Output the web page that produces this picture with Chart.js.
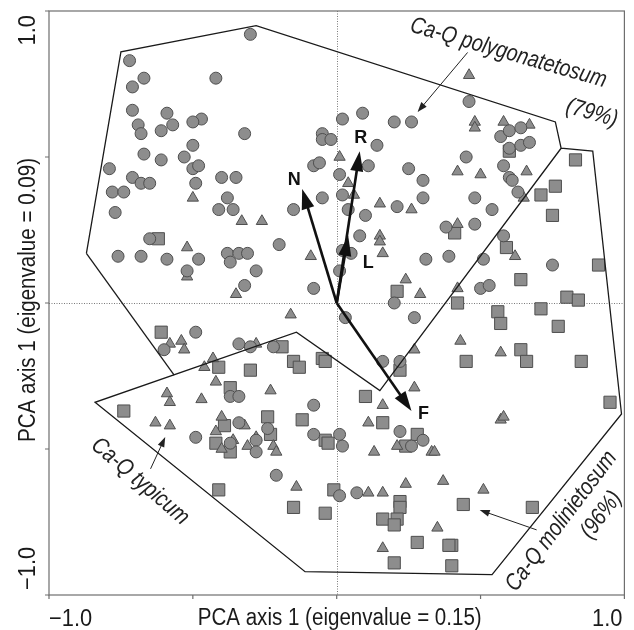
<!DOCTYPE html>
<html>
<head>
<meta charset="utf-8">
<script src="https://cdn.jsdelivr.net/npm/chart.js@4/dist/chart.umd.min.js"></script>
<style>
  html, body { margin: 0; padding: 0; background: #fff; overflow: hidden; }
  #pca { display: block; width: 634px; height: 630px; }
</style>
</head>
<body>
<canvas id="pca" width="634" height="630"></canvas>
<script>
// PCA scores of the releves (axis 1, axis 2), one list per symbol
const circleScores = [
  [-0.30,0.92],[-0.72,0.83],[-0.67,0.77],[-0.42,0.77],[-0.71,0.74],[-0.71,0.66],[-0.59,0.65],[-0.47,0.63],
  [-0.50,0.62],[-0.57,0.61],[-0.69,0.61],[-0.61,0.59],[-0.68,0.58],[-0.32,0.58],[-0.50,0.54],[-0.67,0.51],
  [-0.53,0.50],[-0.61,0.49],[-0.79,0.46],[-0.50,0.46],[-0.48,0.47],[-0.40,0.43],[-0.35,0.43],[-0.71,0.43],
  [-0.68,0.41],[-0.65,0.41],[-0.78,0.38],[-0.74,0.38],[-0.49,0.41],[-0.38,0.36],[-0.41,0.32],[-0.36,0.32],
  [-0.77,0.31],[-0.65,0.22],[-0.76,0.16],[-0.68,0.16],[-0.59,0.15],[-0.48,0.15],[-0.52,0.11],[-0.38,0.17],
  [-0.34,0.17],[-0.31,0.17],[-0.37,0.14],[-0.28,0.11],[-0.32,0.06],[-0.20,0.20],[-0.08,0.05],[-0.15,0.32],
  [0.02,0.63],[0.09,0.65],[0.20,0.62],[0.26,0.62],[-0.05,0.58],[-0.05,0.56],[-0.02,0.56],[0.14,0.54],
  [-0.08,0.47],[-0.06,0.48],[0.11,0.47],[0.25,0.46],[0.30,0.42],[0.01,0.44],[0.02,0.37],[-0.05,0.36],
  [0.30,0.36],[0.21,0.33],[0.04,0.32],[0.10,0.30],[0.08,0.23],[0.02,0.18],[0.05,0.17],[0.01,0.11],
  [0.31,0.15],[0.39,0.16],[0.38,0.26],[0.48,0.27],[0.48,0.36],[0.54,0.32],[0.58,0.23],[0.51,0.15],
  [0.75,0.13],[0.50,0.05],[0.53,0.06],[0.20,0.00],[0.03,-0.05],[0.27,-0.05],
  [0.46,0.69],[0.57,0.57],[0.60,0.59],[0.64,0.60],[0.60,0.53],[0.64,0.54],[0.67,0.55],[0.45,0.50],
  [0.58,0.47],[0.60,0.43],[0.61,0.42],[0.63,0.38],
  [-0.49,-0.10],[-0.60,-0.16],[-0.34,-0.14],[-0.30,-0.15],[-0.22,-0.15],[-0.37,-0.32],[-0.34,-0.32],
  [-0.49,-0.46],[-0.34,-0.41],[-0.24,-0.43],[-0.37,-0.48],[-0.28,-0.47],[-0.28,-0.51],[-0.21,-0.59],
  [-0.08,-0.35],[-0.08,-0.45],[0.01,-0.45],[0.02,-0.49],[0.16,-0.20],[0.22,-0.20],[0.22,-0.44],
  [0.30,-0.47],[0.26,-0.49],[0.01,-0.66],[0.07,-0.65]
];
const triangleScores = [
  [-0.50,0.36],[-0.33,0.28],[-0.26,0.28],[-0.52,0.19],[-0.52,0.09],[-0.35,0.03],[-0.09,0.16],[-0.16,-0.04],
  [0.01,0.50],[0.04,0.41],[0.06,0.37],[0.15,0.34],[0.26,0.32],[0.15,0.23],[0.15,0.21],[0.16,0.17],
  [0.24,0.08],[0.29,0.03],[0.42,0.27],[0.42,0.05],
  [0.46,0.78],[0.48,0.62],[0.48,0.60],[0.58,0.62],[0.67,0.61],[0.42,0.45],[0.50,0.44],[0.66,0.45],
  [0.65,0.36],[0.62,0.16],
  [-0.58,-0.14],[-0.54,-0.13],[-0.53,-0.16],[-0.28,-0.14],[-0.43,-0.19],[-0.46,-0.22],[-0.42,-0.27],
  [-0.59,-0.31],[-0.58,-0.34],[-0.47,-0.33],[-0.23,-0.30],[-0.63,-0.41],[-0.58,-0.42],[-0.40,-0.39],
  [-0.32,-0.42],[-0.42,-0.44],[-0.36,-0.47],[-0.40,-0.50],[-0.28,-0.46],[-0.31,-0.49],[-0.22,-0.49],
  [-0.21,-0.51],[-0.14,-0.63],
  [0.27,-0.16],[0.43,-0.13],[0.57,-0.17],[0.27,-0.29],[0.16,-0.35],[0.11,-0.41],[0.21,-0.49],
  [0.13,-0.51],[0.33,-0.51],[0.34,-0.51],[0.11,-0.65],[0.16,-0.65],[0.24,-0.62],[0.37,-0.61],
  [0.51,-0.64],[0.35,-0.77],[0.16,-0.84],[0.57,-0.40],[0.58,-0.39]
];
const squareScores = [
  [-0.62,0.22],[-0.61,-0.10],[-0.41,-0.22],[-0.30,-0.23],[-0.37,-0.29],[-0.74,-0.37],[-0.39,-0.42],
  [-0.24,-0.39],[-0.23,-0.45],[-0.42,-0.48],[-0.37,-0.51],[-0.41,-0.64],[-0.15,-0.70],[-0.19,-0.15],
  [-0.15,-0.20],[-0.13,-0.22],[-0.05,-0.19],[-0.04,-0.20],[-0.12,-0.40],[-0.04,-0.47],[-0.03,-0.48],
  [0.10,-0.32],[0.22,-0.23],[0.16,-0.41],[0.28,-0.45],[0.24,-0.49],[-0.01,-0.64],[0.22,-0.68],
  [0.22,-0.70],[-0.04,-0.72],[0.16,-0.74],[0.21,-0.74],[0.20,-0.76],[0.28,-0.82],[0.40,-0.83],
  [0.39,-0.83],[0.20,-0.89],[0.40,-0.90],[0.44,-0.69],[0.68,-0.70],
  [0.41,0.24],[0.59,0.19],[0.21,0.04],[0.42,0.00],[0.60,0.52],[0.83,0.49],[0.76,0.40],[0.71,0.37],
  [0.75,0.30],[0.91,0.13],[0.64,0.08],[0.80,0.02],[0.84,0.01],[0.71,-0.02],[0.56,-0.03],[0.57,-0.07],
  [0.77,-0.08],[0.45,-0.20],[0.64,-0.16],[0.66,-0.20],[0.85,-0.20],[0.95,-0.34]
];

// outlines of the subassociations (drawn as one path + one dividing edge)
const outlineMain = [
  [-0.87,0.17],[-0.75,0.86],[-0.28,0.95],[0.76,0.62],[0.78,0.53],[0.89,0.52],[0.99,-0.38],
  [0.54,-0.93],[-0.11,-0.92],[-0.84,-0.34],[-0.14,-0.10],[0.15,-0.30],[0.78,0.53]
];
const outlineSplit = [[-0.87,0.17],[-0.565,-0.247]];

// environmental vectors (Ellenberg values)
const vectorNames = ['N', 'R', 'L', 'F'];
const vectorX = [-0.12, 0.08, 0.04, 0.26];
const vectorY = [0.39, 0.52, 0.23, -0.37];

// axes
const axisTicks = [-1, -0.5, 0, 0.5, 1];
const xTitle = 'PCA axis 1 (eigenvalue = 0.15)';
const yTitle = 'PCA axis 1 (eigenvalue = 0.09)';
const endLabels = ['\u22121.0', '1.0'];

// labels of the groups
const notes = [
  { lines: ['Ca-Q polygonatetosum', '(79%)'], at: [[0.597, 0.856], [0.887, 0.650]], angle: 16,
    from: [0.455, 0.858], to: [0.281, 0.654] },
  { lines: ['Ca-Q typicum'], at: [[-0.683, -0.611]], angle: 40.5,
    from: [-0.647, -0.568], to: [-0.596, -0.459] },
  { lines: ['Ca-Q molinietosum', '(96%)'], at: [[0.781, -0.747], [0.920, -0.726]], angle: -53,
    from: [0.695, -0.777], to: [0.497, -0.709] }
];
const vectorLabelShift = { N: [-8, -9], R: [1, -13], L: [20, 27], F: [12, 3] };

const FONT = '"Liberation Sans", Arial, Helvetica, sans-serif';
const INK = '#1a1a1a';

function toXY(list) {
  return list.map(p => ({ x: p[0], y: p[1] }));
}

function squeezedText(ctx, text, x, y, o) {
  ctx.save();
  ctx.translate(x, y);
  ctx.rotate((o.angle || 0) * Math.PI / 180);
  ctx.scale(o.squeeze || 1, 1);
  ctx.font = o.font;
  ctx.fillStyle = o.color || INK;
  ctx.textAlign = o.align || 'center';
  ctx.textBaseline = o.baseline || 'alphabetic';
  ctx.fillText(text, 0, 0);
  ctx.restore();
}

function drawArrow(ctx, x1, y1, x2, y2, width, headLen, headHalf) {
  const a = Math.atan2(y2 - y1, x2 - x1);
  const c = Math.cos(a), s = Math.sin(a);
  const bx = x2 - c * headLen, by = y2 - s * headLen;
  ctx.lineWidth = width;
  ctx.beginPath();
  ctx.moveTo(x1, y1);
  ctx.lineTo(bx + c * 2, by + s * 2);
  ctx.stroke();
  ctx.beginPath();
  ctx.moveTo(x2, y2);
  ctx.lineTo(bx - s * headHalf, by + c * headHalf);
  ctx.lineTo(bx + s * headHalf, by - c * headHalf);
  ctx.closePath();
  ctx.fill();
}

const ordinationDecor = {
  id: 'ordinationDecor',
  beforeDatasetsDraw(chart) {
    const { ctx, chartArea: a, scales: { x, y } } = chart;
    const x0 = Math.round(x.getPixelForValue(0)) + 0.5;
    const y0 = Math.round(y.getPixelForValue(0)) + 0.5;
    ctx.save();
    ctx.strokeStyle = '#7a7a7a';
    ctx.lineWidth = 1;
    ctx.setLineDash([1, 1.5]);
    ctx.beginPath();
    ctx.moveTo(x0, a.top); ctx.lineTo(x0, a.bottom);
    ctx.moveTo(a.left, y0); ctx.lineTo(a.right, y0);
    ctx.stroke();
    ctx.restore();
  },
  afterDatasetsDraw(chart) {
    const { ctx, chartArea: a, scales: { x, y } } = chart;
    ctx.save();

    // frame and outward ticks
    ctx.strokeStyle = '#6e6e6e';
    ctx.lineWidth = 1.2;
    ctx.strokeRect(a.left, a.top, a.right - a.left, a.bottom - a.top);
    ctx.beginPath();
    axisTicks.forEach(v => {
      const px = x.getPixelForValue(v), py = y.getPixelForValue(v);
      ctx.moveTo(px, a.bottom); ctx.lineTo(px, a.bottom + 4);
      ctx.moveTo(a.left, py); ctx.lineTo(a.left - 4, py);
    });
    ctx.stroke();

    // axis texts
    const axisFont = '23.5px ' + FONT;
    const base = a.bottom + 31;
    squeezedText(ctx, endLabels[0], a.left, base, { font: axisFont, squeeze: 0.93, align: 'left' });
    squeezedText(ctx, endLabels[1], a.right - 2, base, { font: axisFont, squeeze: 0.93, align: 'right' });
    squeezedText(ctx, xTitle, x.getPixelForValue(0) + 3, base - 1, { font: axisFont, squeeze: 0.875 });
    const ycol = a.left - 14;
    squeezedText(ctx, endLabels[1], ycol, a.top + 4, { font: axisFont, squeeze: 0.93, align: 'right', angle: -90 });
    squeezedText(ctx, endLabels[0], ycol, a.bottom - 5, { font: axisFont, squeeze: 0.93, align: 'left', angle: -90 });
    squeezedText(ctx, yTitle, ycol, y.getPixelForValue(0) - 3, { font: axisFont, squeeze: 0.875, angle: -90 });

    // environmental vectors
    ctx.strokeStyle = '#111';
    ctx.fillStyle = '#111';
    const ox = x.getPixelForValue(0), oy = y.getPixelForValue(0);
    vectorNames.forEach((name, i) => {
      const tx = x.getPixelForValue(vectorX[i]), ty = y.getPixelForValue(vectorY[i]);
      drawArrow(ctx, ox, oy, tx, ty, 2.6, 20, 6.5);
      const sh = vectorLabelShift[name];
      squeezedText(ctx, name, tx + sh[0], ty + sh[1], { font: 'bold 18px ' + FONT, color: '#111', baseline: 'middle' });
    });

    // group labels with pointers
    ctx.strokeStyle = '#222';
    ctx.fillStyle = '#222';
    notes.forEach(n => {
      n.lines.forEach((t, k) => {
        squeezedText(ctx, t, x.getPixelForValue(n.at[k][0]), y.getPixelForValue(n.at[k][1]),
          { font: 'italic 23.5px ' + FONT, squeeze: 0.84, angle: n.angle, baseline: 'middle', color: '#222' });
      });
      drawArrow(ctx, x.getPixelForValue(n.from[0]), y.getPixelForValue(n.from[1]),
        x.getPixelForValue(n.to[0]), y.getPixelForValue(n.to[1]), 1, 10, 3.5);
    });

    ctx.restore();
  }
};

const markFill = '#8d8d8d';
const markEdge = '#4f4f4f';

new Chart(document.getElementById('pca'), {
  type: 'scatter',
  data: {
    datasets: [
      { label: 'outline', data: toXY(outlineMain), showLine: true, fill: false, tension: 0,
        borderColor: INK, borderWidth: 1.3, pointRadius: 0, order: 0 },
      { label: 'split', data: toXY(outlineSplit), showLine: true, fill: false, tension: 0,
        borderColor: INK, borderWidth: 1.3, pointRadius: 0, order: 0 },
      { label: 'circles', data: toXY(circleScores), pointStyle: 'circle', pointRadius: 6,
        backgroundColor: markFill, borderColor: markEdge, borderWidth: 1, order: 1 },
      { label: 'triangles', data: toXY(triangleScores), pointStyle: 'triangle', pointRadius: 6.5,
        backgroundColor: markFill, borderColor: markEdge, borderWidth: 1, order: 2 },
      { label: 'squares', data: toXY(squareScores), pointStyle: 'rect', pointRadius: 8.6,
        backgroundColor: markFill, borderColor: markEdge, borderWidth: 1, order: 3 }
    ]
  },
  options: {
    responsive: false,
    animation: false,
    events: [],
    devicePixelRatio: 1,
    layout: { padding: { left: 49, right: 1, top: 11, bottom: 35 } },
    scales: {
      x: { type: 'linear', min: -1, max: 1, display: false },
      y: { type: 'linear', min: -1, max: 1, display: false }
    },
    plugins: { legend: { display: false }, tooltip: { enabled: false } }
  },
  plugins: [ordinationDecor]
});
</script>
</body>
</html>
